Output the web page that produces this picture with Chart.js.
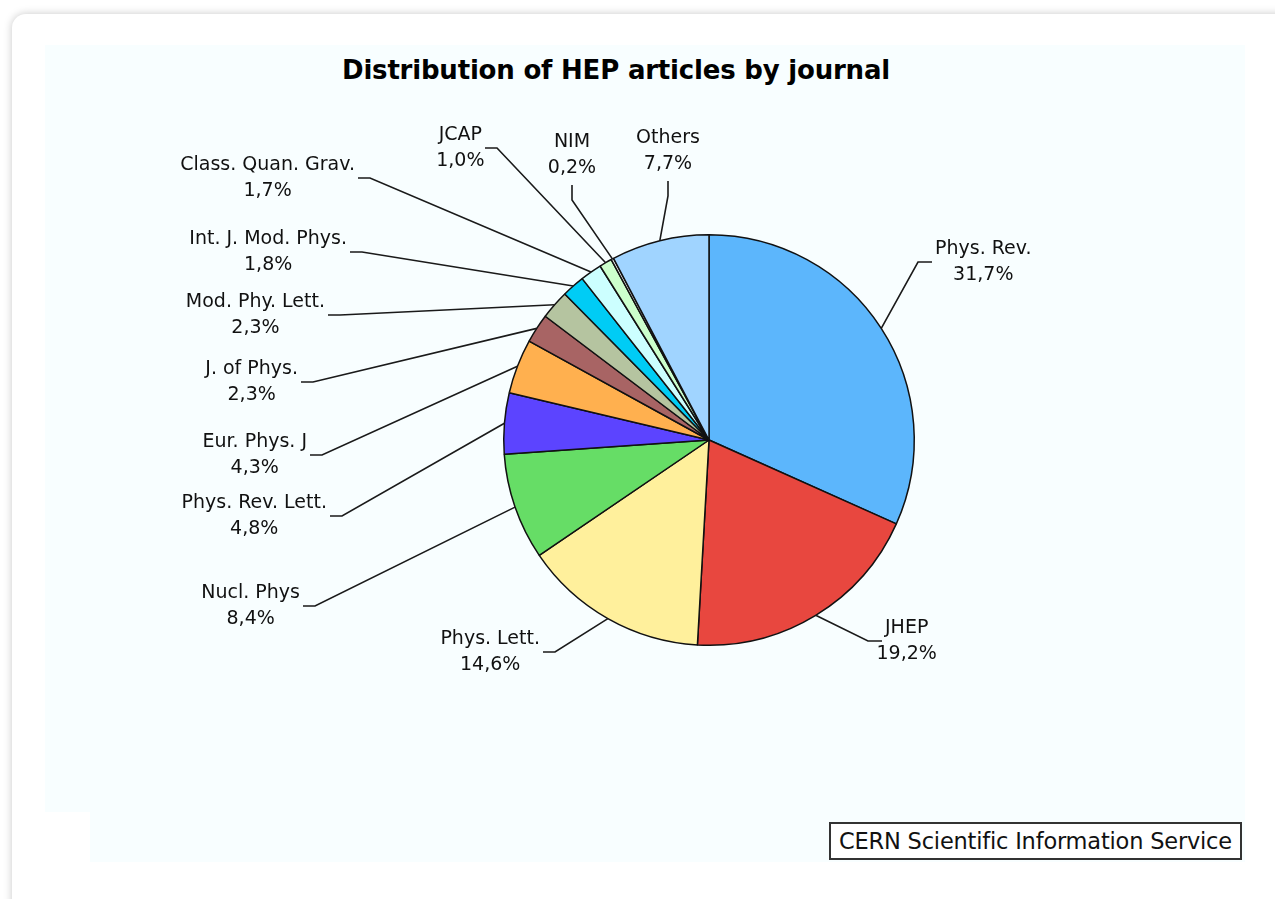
<!DOCTYPE html>
<html>
<head>
<meta charset="utf-8">
<script src="https://cdn.jsdelivr.net/npm/chart.js@4.4.1/dist/chart.umd.min.js"></script>
<style>
  html, body { margin: 0; padding: 0; background: #fff; overflow: hidden; }
  body { width: 1275px; height: 899px; position: relative; font-family: "DejaVu Sans", Verdana, sans-serif; }
  .panel { position: absolute; left: 12px; top: 14px; width: 1300px; height: 920px; background: #fff;
           border-radius: 14px; box-shadow: 0 0 9px rgba(0,0,0,0.22); }
  .pale1 { position: absolute; left: 45px; top: 45px; width: 1200px; height: 767px; background: #f8feff; }
  .pale2 { position: absolute; left: 90px; top: 812px; width: 1155px; height: 50px; background: #f8feff; }
  .title { position: absolute; left: 216px; width: 800px; top: 53px; text-align: center;
           font-weight: bold; font-size: 26px; line-height: 34px; color: #000; letter-spacing: -0.2px; }
  .credit { position: absolute; left: 829px; top: 822px; width: 409px; height: 34px; border: 2px solid #333;
            background: #fff; font-size: 22.5px; line-height: 34px; text-align: center; color: #111;
            letter-spacing: -0.2px; white-space: nowrap; }
  #chart { position: absolute; left: 0; top: 0; }
</style>
</head>
<body>
<div class="panel"></div>
<div class="pale1"></div>
<div class="pale2"></div>
<div class="title">Distribution of HEP articles by journal</div>
<div class="credit">CERN Scientific Information Service</div>
<canvas id="chart" width="1275" height="899"></canvas>
<script>
// data
const journals = ['Phys. Rev.', 'JHEP', 'Phys. Lett.', 'Nucl. Phys', 'Phys. Rev. Lett.', 'Eur. Phys. J',
                  'J. of Phys.', 'Mod. Phy. Lett.', 'Int. J. Mod. Phys.', 'Class. Quan. Grav.', 'JCAP', 'NIM', 'Others'];
const shares = [31.7, 19.2, 14.6, 8.4, 4.8, 4.3, 2.3, 2.3, 1.8, 1.7, 1.0, 0.2, 7.7];
const sliceColors = ['#5cb6fc', '#e8473f', '#fff09c', '#66dd66', '#5c44ff', '#ffb04f', '#a86464',
                     '#b5c4a0', '#00ccf5', '#ccffff', '#ccffcc', '#f4f4f4', '#a0d4ff'];

// where each label sits: elbow point of its leader line, and which way the text goes
const labelSpots = [
  [918, 262, 'R'], [868, 641, 'R'], [555, 652, 'L'], [315, 606, 'L'], [342, 516, 'L'], [322, 455, 'L'],
  [313, 382, 'L'], [340, 315, 'L'], [362, 252, 'L'], [370, 178, 'L'], [497, 148, 'L'], [572, 200, 'U'], [668, 196, 'U']
];

const labelFont = '19px "DejaVu Sans", Verdana, sans-serif';

const leaderLabels = {
  id: 'leaderLabels',
  afterDatasetsDraw(chart) {
    const ctx = chart.ctx;
    const arcs = chart.getDatasetMeta(0).data;
    ctx.save();
    ctx.font = labelFont;
    ctx.letterSpacing = '0px';
    ctx.strokeStyle = '#1a1a1a';
    ctx.lineWidth = 1.6;
    ctx.fillStyle = '#111';
    ctx.textBaseline = 'middle';
    arcs.forEach((arc, i) => {
      const mid = (arc.startAngle + arc.endAngle) / 2;
      const sx = arc.x + Math.cos(mid) * arc.outerRadius;
      const sy = arc.y + Math.sin(mid) * arc.outerRadius;
      const [ex, ey, side] = labelSpots[i];
      const line1 = journals[i];
      const line2 = shares[i].toFixed(1).replace('.', ',') + '%';
      const w1 = ctx.measureText(line1).width;
      let endX = ex, endY = ey, cx, y1;
      if (side === 'L') { endX = ex - 12; cx = endX - 3 - w1 / 2; y1 = ey - 13; }
      else if (side === 'R') { endX = ex + 14; cx = endX + 3 + w1 / 2; y1 = ey - 13; }
      else { endY = ey - 15; cx = ex; y1 = endY - 43; }
      ctx.beginPath();
      ctx.moveTo(sx, sy);
      ctx.lineTo(ex, ey);
      ctx.lineTo(endX, endY);
      ctx.stroke();
      ctx.textAlign = 'center';
      ctx.fillText(line1, cx, y1);
      ctx.fillText(line2, cx, y1 + 26);
    });
    ctx.restore();
  }
};

new Chart(document.getElementById('chart').getContext('2d'), {
  type: 'pie',
  data: {
    labels: journals,
    datasets: [{
      data: shares,
      backgroundColor: sliceColors,
      borderColor: '#111',
      borderWidth: 1.5
    }]
  },
  options: {
    responsive: false,
    animation: false,
    layout: { padding: { left: 503, top: 234, right: 360, bottom: 253 } },
    plugins: {
      legend: { display: false },
      tooltip: { enabled: false }
    }
  },
  plugins: [leaderLabels]
});
</script>
</body>
</html>
